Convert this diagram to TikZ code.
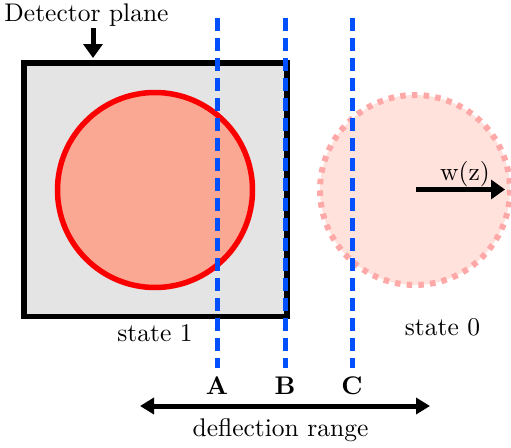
\documentclass[tikz,border=0pt]{standalone}
\usepackage{fontspec}
\setmainfont{lmroman10-regular}[Extension=.otf, BoldFont=lmroman10-bold]
\usetikzlibrary{arrows.meta}
\definecolor{boxgray}{RGB}{228,228,228}
\definecolor{sred}{RGB}{250,0,0}
\definecolor{sfill}{RGB}{250,168,148}
\definecolor{pfill}{RGB}{255,226,220}
\definecolor{pdot}{RGB}{255,168,168}
\definecolor{bl}{RGB}{0,80,255}
\tikzset{
  lbl/.style={font=\fontsize{25.5}{30}\selectfont, inner sep=0pt, anchor=base},
  blbl/.style={font=\fontsize{25.5}{30}\selectfont\bfseries, inner sep=0pt, anchor=base},
  arr/.style={line width=5pt, -{Triangle[length=14pt,width=19pt]}},
  darr/.style={line width=5pt, {Triangle[length=14pt,width=16pt]}-{Triangle[length=14pt,width=16pt]}},
  bdash/.style={bl, line width=5pt, dash pattern=on 13pt off 7pt},
}
\begin{document}
\begin{tikzpicture}[x=1pt,y=-1pt]
\useasboundingbox (0,0) rectangle (511,447);
% detector square
\draw[fill=boxgray, line width=5.5pt] (24,63) rectangle (287,316.5);
% state 1 circle
\draw[sred, fill=sfill, line width=5.5pt] (155,190) circle (97.5);
% state 0 circle
\fill[pfill] (415,190) circle (95);
\draw[pdot, line width=6pt, dash pattern=on 5.5pt off 6.2pt] (415,190) circle (95);
% blue lines
\coordinate (a1) at (217,18); \coordinate (a2) at (217,368);
\coordinate (b1) at (285,18); \coordinate (b2) at (285,368);
\coordinate (c1) at (352,18); \coordinate (c2) at (352,368);
\draw[bdash] (a1) -- (a2);
\draw[bdash] (b1) -- (b2);
\draw[bdash] (c1) -- (c2);
% labels
\node[lbl] (det) at (86.5,21) {Detector plane};
\coordinate (dtop) at (93,28); \coordinate (dtip) at (93,58);
\draw[arr] (dtop) -- (dtip);
\node[blbl] (A) at (217,394) {A};
\node[blbl] (B) at (285,394) {B};
\node[blbl] (C) at (352,394) {C};
\coordinate (dl) at (140,406); \coordinate (dr) at (430,406);
\draw[darr] (dl) -- (dr);
\node[lbl] (defl) at (280.5,436.5) {deflection range};
\node[lbl] (s1) at (155,341.5) {state 1};
\node[lbl] (s0) at (442.5,335) {state 0};
\coordinate (w1) at (415.5,189.5); \coordinate (w2) at (505,189.5);
\draw[arr] (w1) -- (w2);
\node[lbl] (wz) at (465,180) {w(z)};
\end{tikzpicture}
\end{document}
